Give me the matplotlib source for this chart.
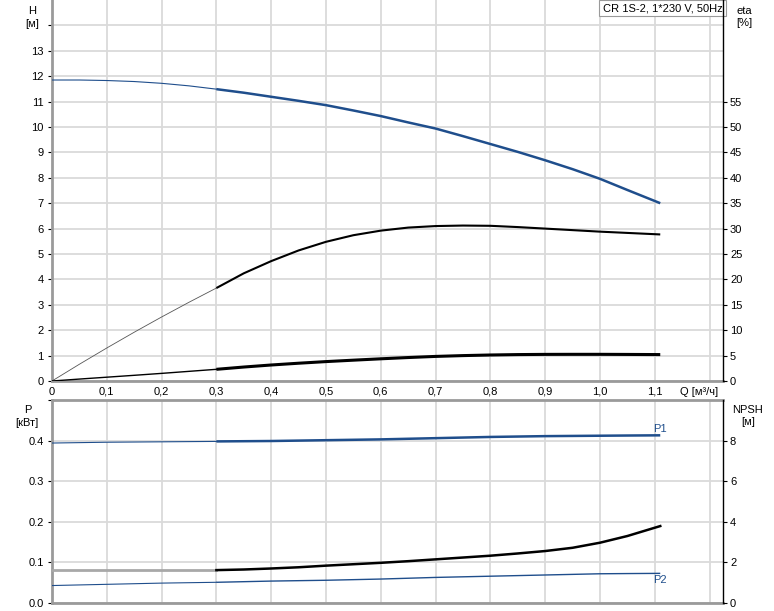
import numpy as np
import matplotlib.pyplot as plt

plt.rcParams['font.family'] = ['Liberation Sans', 'DejaVu Sans']

# --- Data ---
q = [0.0, 0.05, 0.1, 0.15, 0.2, 0.25, 0.3, 0.35, 0.4, 0.45, 0.5, 0.55,
     0.6, 0.65, 0.7, 0.75, 0.8, 0.85, 0.9, 0.95, 1.0, 1.05, 1.11]
head = [11.85, 11.85, 11.83, 11.79, 11.72, 11.62, 11.49, 11.35, 11.19, 11.03, 10.86, 10.65,
        10.43, 10.18, 9.94, 9.64, 9.33, 9.02, 8.69, 8.34, 7.96, 7.52, 7.0]
eta = [0.0, 3.3, 6.5, 9.6, 12.6, 15.5, 18.3, 21.2, 23.6, 25.7, 27.4, 28.7,
       29.6, 30.2, 30.5, 30.6, 30.55, 30.3, 30.0, 29.7, 29.4, 29.15, 28.85]
eta_low = [0.0, 0.38, 0.75, 1.12, 1.5, 1.9, 2.3, 2.75, 3.15, 3.5, 3.82, 4.1,
           4.37, 4.62, 4.84, 5.0, 5.12, 5.2, 5.24, 5.25, 5.25, 5.23, 5.2]

p1 = [0.394, 0.395, 0.396, 0.3965, 0.397, 0.3975, 0.398, 0.3985, 0.399, 0.400, 0.401, 0.402,
      0.403, 0.4045, 0.406, 0.4075, 0.409, 0.410, 0.411, 0.4115, 0.412, 0.4125, 0.413]
p2 = [0.043, 0.0445, 0.046, 0.0475, 0.049, 0.050, 0.051, 0.0525, 0.054, 0.055, 0.056, 0.0575,
      0.059, 0.061, 0.063, 0.0645, 0.066, 0.0675, 0.069, 0.0705, 0.072, 0.0725, 0.073]
npsh = [1.62, 1.62, 1.62, 1.62, 1.62, 1.62, 1.62, 1.65, 1.70, 1.76, 1.84, 1.91,
        1.98, 2.06, 2.15, 2.24, 2.33, 2.44, 2.56, 2.72, 2.97, 3.30, 3.79]

x_ticks = [0.0, 0.1, 0.2, 0.3, 0.4, 0.5, 0.6, 0.7, 0.8, 0.9, 1.0, 1.1]
x_labels = ['0', '0,1', '0,2', '0,3', '0,4', '0,5', '0,6', '0,7', '0,8', '0,9', '1,0', '1,1']
title = 'CR 1S-2, 1*230 V, 50Hz'

q_start = 0.3   # start of the thick operating range
blue = '#1f4e8c'
grid_c = '#dadada'
spine_g = '#9a9a9a'
fs = 8

fig = plt.figure(figsize=(7.74, 6.11), dpi=100)
ax = fig.add_axes([52/774, 1-381/611, 671/774, 381/611])
ax2 = ax.twinx()
bx = fig.add_axes([52/774, 8/611, 671/774, 203/611])
bx2 = bx.twinx()

q = np.array(q)
op = q >= q_start - 1e-9
pre = q <= q_start + 1e-9


def split_plot(a, y, color, lw_thin, lw_thick, thin_color=None):
    y = np.array(y)
    a.plot(q[pre], y[pre], color=thin_color or color, lw=lw_thin, zorder=3)
    a.plot(q[op], y[op], color=color, lw=lw_thick, zorder=3, solid_capstyle='butt')


# --- top chart: H and eta ---
split_plot(ax, head, blue, 0.8, 1.8)
split_plot(ax2, eta, 'black', 0.6, 1.5, thin_color='#555555')
split_plot(ax2, eta_low, 'black', 1.0, 2.2)

ax.set_xlim(0, 1.2245)
ax.set_ylim(0, 15)
ax2.set_ylim(0, 75)
ax.set_xticks(x_ticks + [1.2])
ax.set_xticklabels(x_labels + [''])
ax.set_yticks(range(0, 15))
ax.set_yticklabels([str(i) for i in range(14)] + [''])
ax2.set_yticks(range(0, 60, 5))
ax.grid(True, color=grid_c, lw=1.3)
ax.text(1.216, -0.25, 'Q [м³/ч]', ha='right', va='top', fontsize=fs)
ax.text(-0.037, 14.75, 'H\n[м]', ha='center', va='top', fontsize=fs, linespacing=1.3)
ax2.text(1.263, 73.9, 'eta\n[%]', ha='center', va='top', fontsize=fs, linespacing=1.3)
ax.text(1.2235, 14.88, title, ha='right', va='top', fontsize=fs,
        bbox=dict(boxstyle='square,pad=0.3', fc='white', ec='#9a9a9a', lw=0.8), zorder=5)

# --- bottom chart: P and NPSH ---
split_plot(bx, p1, blue, 0.8, 1.8)
split_plot(bx, p2, blue, 0.8, 1.0)
npsh_arr = np.array(npsh)
bx2.plot(q[pre], npsh_arr[pre], color='#a8a8a8', lw=2.0, zorder=3)
bx2.plot(q[op], npsh_arr[op], color='black', lw=1.8, zorder=3)
bx.text(q[-1], p1[-1] + 0.003, 'P1', ha='center', va='bottom', fontsize=fs, color=blue)
bx.text(q[-1], p2[-1] - 0.004, 'P2', ha='center', va='top', fontsize=fs, color=blue)

bx.set_xlim(0, 1.2245)
bx.set_ylim(0, 0.5)
bx2.set_ylim(0, 10)
bx.set_xticks(x_ticks + [1.2])
bx.set_xticklabels([])
bx.set_yticks([0.0, 0.1, 0.2, 0.3, 0.4, 0.5])
bx.set_yticklabels(['0.0', '0.1', '0.2', '0.3', '0.4', ''])
bx2.set_yticks([0, 2, 4, 6, 8])
bx.grid(True, color=grid_c, lw=1.3)
bx.text(-0.045, 0.487, 'P\n[кВт]', ha='center', va='top', fontsize=fs, linespacing=1.3)
bx2.text(1.27, 9.75, 'NPSH\n[м]', ha='center', va='top', fontsize=fs, linespacing=1.3)

for a, a2 in ((ax, ax2), (bx, bx2)):
    a.set_axisbelow(True)
    for s in ('left', 'bottom', 'top'):
        a.spines[s].set_color(spine_g)
        a.spines[s].set_linewidth(2)
    a.spines['right'].set_visible(False)
    for s in ('left', 'bottom', 'top'):
        a2.spines[s].set_visible(False)
    a2.spines['right'].set_color('black')
    a2.spines['right'].set_linewidth(1)
    a.tick_params(axis='both', labelsize=fs, length=3, color='black', width=0.8, pad=3)
    a.tick_params(axis='x', length=0, pad=4)
    a2.tick_params(axis='y', labelsize=fs, length=3, color='black', width=0.8, pad=2)
ax.spines['top'].set_visible(False)

fig.savefig('out.png', dpi=100)
